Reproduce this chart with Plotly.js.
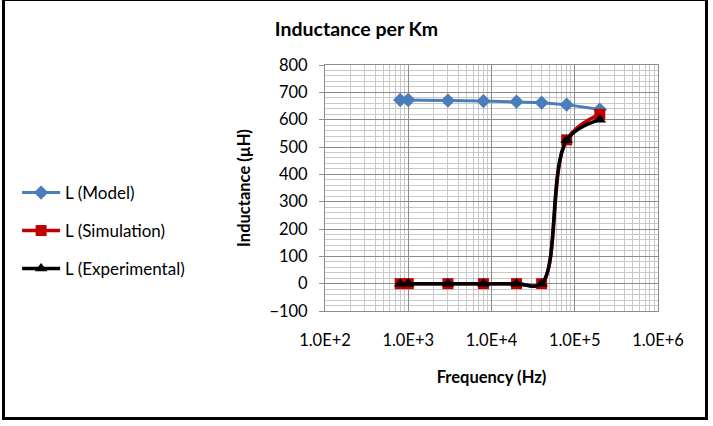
<!DOCTYPE html>
<html>
<head>
<meta charset="utf-8">
<script src="https://cdn.plot.ly/plotly-3.0.1.min.js"></script>
<style>
  html, body { margin: 0; padding: 0; background: #fff; }
  #wrap { position: relative; width: 713px; height: 426px; overflow: hidden; }
  #chart { width: 713px; height: 426px; }
  #frame {
    position: absolute; left: 2px; top: -2px; width: 706px; height: 422px;
    box-sizing: border-box; border: 3px solid #000; pointer-events: none;
  }
</style>
</head>
<body>
<div id="wrap">
  <div id="chart"></div>
  <div id="frame"></div>
</div>
<script>
// Frequency sweep (Hz)
const frequency = [800, 1000, 3000, 8000, 20000, 40000, 80000, 200000];

// Inductance per km (µH)
const lModel        = [672, 672, 670, 668, 666, 662, 655, 637];
const lSimulation   = [0, 0, 0, 0, 0, 0, 526, 620];
const lExperimental = [0, 0, 0, 0, 0, 0, 525, 600];

// Log-axis tick labels
const xTickVals = [1e2, 1e3, 1e4, 1e5, 1e6];
const xTickText = ["1.0E+2", "1.0E+3", "1.0E+4", "1.0E+5", "1.0E+6"];

const FONT = "Lato, 'Open Sans', sans-serif";

const traces = [
  {
    x: frequency, y: lModel, name: "L (Model)", mode: "lines+markers",
    type: "scatter", legend: "legend",
    line: { color: "#4a7ebb", width: 3 },
    marker: { symbol: "diamond", size: 11, color: "#4a7ebb" }
  },
  {
    x: frequency, y: lSimulation, name: "L (Simulation)", mode: "lines+markers",
    type: "scatter", legend: "legend2",
    line: { color: "#c00000", width: 3.5, shape: "spline", smoothing: 1 },
    marker: { symbol: "square", size: 11, color: "#c00000" }
  },
  {
    x: frequency, y: lExperimental, name: "L (Experimental)", mode: "lines+markers",
    type: "scatter", legend: "legend3",
    line: { color: "#000000", width: 3.5, shape: "spline", smoothing: 1 },
    marker: { symbol: "triangle-up", size: 11, color: "#000000" }
  }
];

const legendBase = {
  xref: "container", yref: "container", x: 0.024, xanchor: "left", yanchor: "middle",
  itemwidth: 38,
  font: { family: FONT, size: 17, color: "#000" }, bgcolor: "rgba(0,0,0,0)"
};

const layout = {
  width: 713, height: 426,
  margin: { l: 325, r: 55, t: 65, b: 115 },
  paper_bgcolor: "#fff", plot_bgcolor: "#fff",
  font: { family: FONT, size: 16, color: "#000" },
  title: {
    text: "<b>Inductance per Km</b>",
    xref: "container", yref: "container", x: 0.5, y: 1 - 29 / 426,
    xanchor: "center", yanchor: "middle",
    font: { family: FONT, size: 19.5, color: "#000" }
  },
  xaxis: {
    type: "log", range: [2, 6],
    tickvals: xTickVals, ticktext: xTickText,
    ticks: "", ticklabelstandoff: 14,
    tickfont: { size: 16.5 },
    showgrid: true, gridcolor: "#8c8c8c", gridwidth: 1,
    minor: { dtick: "D1", showgrid: true, gridcolor: "#c8c8c8", gridwidth: 1, ticks: "" },
    showline: true, linecolor: "#8c8c8c", linewidth: 1, mirror: true,
    zeroline: false,
    title: { text: "<b>Frequency (Hz)</b>", standoff: 22, font: { family: FONT, size: 16.5 } },
    automargin: false
  },
  yaxis: {
    range: [-100, 800], dtick: 100, tick0: 0,
    ticks: "outside", ticklen: 5, tickcolor: "#8c8c8c", ticklabelstandoff: 8,
    tickfont: { size: 16.5 },
    showgrid: true, gridcolor: "#8c8c8c", gridwidth: 1,
    minor: { dtick: 20, showgrid: true, gridcolor: "#c8c8c8", gridwidth: 1, ticks: "" },
    showline: true, linecolor: "#8c8c8c", linewidth: 1, mirror: true,
    zeroline: false,
    title: { text: "<b>Inductance (µH)</b>", standoff: 14, font: { family: FONT, size: 16.5 } },
    automargin: false
  },
  showlegend: true,
  legend:  Object.assign({}, legendBase, { y: 1 - 193 / 426 }),
  legend2: Object.assign({}, legendBase, { y: 1 - 231 / 426 }),
  legend3: Object.assign({}, legendBase, { y: 1 - 269 / 426 })
};

Plotly.newPlot("chart", traces, layout, { displayModeBar: false, staticPlot: true });
</script>
</body>
</html>
